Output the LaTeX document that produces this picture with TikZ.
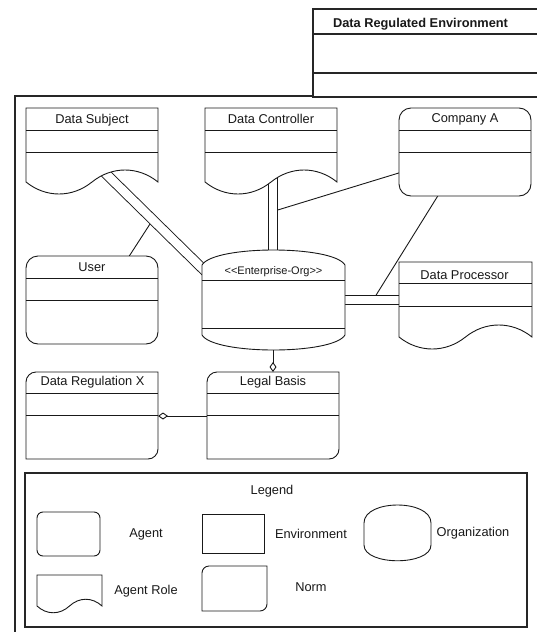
\documentclass[tikz,border=0pt]{standalone}
\usepackage{fontspec}
\setmainfont{Liberation Sans}
\usetikzlibrary{arrows.meta}
\tikzset{
  ln/.style={line width=0.9pt, draw=black!90},
  shp/.style={ln, fill=white},
  heavy/.style={line width=1.6pt, draw=black!85},
  dbl/.style={line width=0.9pt, draw=black!90, double=white, double distance=8.6pt},
  lbl/.style={font=\fontsize{12.8}{15}\selectfont, inner sep=0pt, anchor=base, text=black!90},
  stereo/.style={lbl, font=\fontsize{11}{13}\selectfont},
  boldtitle/.style={lbl, font=\fontsize{12.8}{15}\selectfont\bfseries},
  aggend/.style={-{Diamond[open, length=10pt, width=7pt]}},
  aggstart/.style={{Diamond[open, length=10pt, width=7pt]}-},
}
% role (document) shape: x0, ytop, width, y of side bottoms, wave control offset
\newcommand\mkrole[5]{%
  \draw[shp] (#1,#2) -- ({#1+#3},#2) -- ({#1+#3},#4)
    .. controls ({#1+0.85*#3},{#4-#5}) and ({#1+0.65*#3},{#4-#5}) .. ({#1+0.5*#3},#4)
    .. controls ({#1+0.35*#3},{#4+#5}) and ({#1+0.15*#3},{#4+#5}) .. (#1,#4) -- cycle;}
% norm shape: x0, y0, x1, y1, radius (rounded top-left and bottom-right)
\newcommand\mknorm[5]{%
  \draw[shp] (#1,#4) -- (#1,{#2+#5}) .. controls (#1,{#2+0.45*#5}) and ({#1+0.45*#5},#2) .. ({#1+#5},#2)
    -- (#3,#2) -- (#3,{#4-#5}) .. controls (#3,{#4-0.45*#5}) and ({#3-0.45*#5},#4) .. ({#3-#5},#4) -- cycle;}
\newcommand\mksep[3]{\draw[ln] (#1,#3) -- (#2,#3);}
\begin{document}
\begin{tikzpicture}[x=1pt, y=-1pt]
\useasboundingbox (0,0) rectangle (537,632);
\clip (0,0) rectangle (537,632);
\fill[white] (0,0) rectangle (537,632);

% outer environment frame
\draw[heavy] (15,96) rectangle (570,670);
% Data Regulated Environment
\draw[heavy, fill=white] (313,9) rectangle (570,97);
\draw[line width=1.3pt, draw=black!85] (313,34) -- (570,34);
\draw[line width=1.3pt, draw=black!85] (313,73) -- (570,73);
\node[boldtitle] (dre) at (420.5,27) {Data Regulated Environment};

% connector end points
\coordinate (dsA) at (97,165);
\coordinate (eoA) at (210,276);
\coordinate (dcA) at (273,170);
\coordinate (eoB) at (273,260);
\coordinate (eoC) at (340,300);
\coordinate (dpA) at (405,300);
\coordinate (usT) at (128,258);
\coordinate (dsJ) at (150,224);
\coordinate (caL) at (402,172);
\coordinate (dcJ) at (277.75,210);
\coordinate (caB) at (439,194);
\coordinate (dpJ) at (376,295.25);

% single connectors
\draw[ln] (usT) -- (dsJ);
\draw[ln] (caL) -- (dcJ);
\draw[ln] (caB) -- (dpJ);
% double connectors
\draw[dbl] (dsA) -- (eoA);
\draw[dbl] (dcA) -- (eoB);
\draw[dbl] (eoC) -- (dpA);

% Data Subject (agent role)
\mkrole{26}{108}{132}{182}{16}
\mksep{26}{158}{130}\mksep{26}{158}{152}
\node[lbl] (ds) at (92,123) {Data Subject};

% Data Controller (agent role)
\mkrole{205}{108}{132}{182}{16}
\mksep{205}{337}{130}\mksep{205}{337}{152}
\node[lbl] (dc) at (271,123) {Data Controller};

% Company A (agent)
\draw[shp, rounded corners=12pt] (399,108) rectangle (531,196);
\mksep{399}{531}{130}\mksep{399}{531}{152}
\node[lbl] (ca) at (465,122.5) {Company A};

% User (agent)
\draw[shp, rounded corners=12pt] (26,256) rectangle (158,344);
\mksep{26}{158}{278}\mksep{26}{158}{300}
\node[lbl] (us) at (92,271.5) {User};

% Enterprise-Org (organization)
\draw[shp] (202,265) .. controls (214,245) and (333,245) .. (345,265) -- (345,335)
  .. controls (333,355) and (214,355) .. (202,335) -- cycle;
\mksep{202}{345}{280}\mksep{202}{345}{328}
\node[stereo] (eo) at (273.5,274) {<{}<Enterprise-Org>{}>};

% Data Processor (agent role)
\mkrole{399}{262}{133}{337}{16}
\mksep{399}{532}{283}\mksep{399}{532}{306}
\node[lbl] (dp) at (464.5,279) {Data Processor};

% Data Regulation X (norm)
\mknorm{26}{372}{158}{459}{10}
\mksep{26}{158}{393}\mksep{26}{158}{415}
\node[lbl] (drx) at (92.5,385.7) {Data Regulation X};

% Legal Basis (norm)
\mknorm{207}{372}{339}{459}{10}
\mksep{207}{339}{393}\mksep{207}{339}{415}
\node[lbl] (lb) at (273,385.7) {Legal Basis};

% aggregation connectors
\coordinate (eoBot) at (273,350);
\coordinate (lbTop) at (273,372);
\coordinate (drxR) at (158,416);
\coordinate (lbL) at (207,416);
\draw[ln, aggend] (eoBot) -- (lbTop);
\draw[ln, aggstart] (drxR) -- (lbL);

% Legend
\draw[heavy, fill=white] (25,473) rectangle (527,627);
\node[lbl] (lg) at (272,494) {Legend};
\draw[shp, rounded corners=6pt] (37,512) rectangle (100,556);
\node[lbl] (lga) at (146,537) {Agent};
\draw[shp] (202,514) rectangle (264,553);
\node[lbl] (lge) at (311,538) {Environment};
\draw[shp] (364,523) .. controls (364,499) and (431,499) .. (431,523) -- (431,545)
  .. controls (431,566) and (364,566) .. (364,545) -- cycle;
\node[lbl] (lgo) at (473,536) {Organization};
\mkrole{37}{575}{65}{606}{9}
\node[lbl] (lgr) at (146,594.7) {Agent Role};
\mknorm{202}{566}{267}{611}{7}
\node[lbl] (lgn) at (311,591.7) {Norm};
\end{tikzpicture}
\end{document}
